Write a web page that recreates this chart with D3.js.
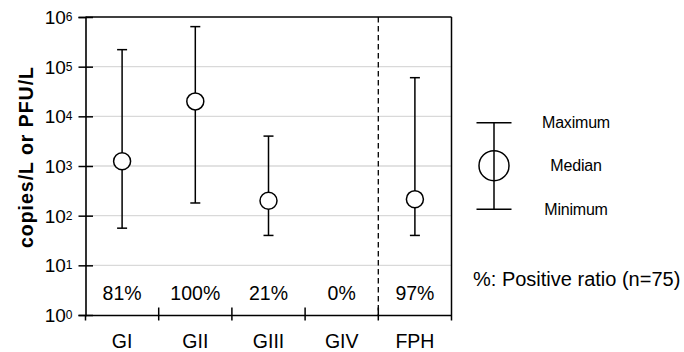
<!DOCTYPE html>
<html>
<head>
<meta charset="utf-8">
<script src="https://cdn.jsdelivr.net/npm/d3@7"></script>
<style>
  html, body { margin: 0; padding: 0; background: #fff; }
  svg { display: block; font-family: "Liberation Sans", Arial, sans-serif; }
</style>
</head>
<body>
<svg id="chart" width="684" height="352"></svg>
<script>
// ---- data ----
const categories = ["GI", "GII", "GIII", "GIV", "FPH"];
const maxValues = [2.2e5, 6.4e5, 4.0e3, null, 6.0e4];
const medianValues = [1.25e3, 2.0e4, 200, null, 215];
const minValues = [56, 180, 40, null, 40];
const positiveRatios = ["81%", "100%", "21%", "0%", "97%"];
const yTickValues = [1, 10, 100, 1e3, 1e4, 1e5, 1e6];
const yTickExponents = ["0", "1", "2", "3", "4", "5", "6"];
const legendLabels = ["Maximum", "Median", "Minimum"];
const yTitle = "copies/L or PFU/L";
const noteText = "%: Positive ratio (n=75)";

// ---- layout ----
const svg = d3.select("#chart");
const pLeft = 85.5, pRight = 451.5, pTop = 17, pBottom = 315;

const y = d3.scaleLog().domain([1, 1e6]).range([pBottom, pTop]);
const x = d3.scaleBand().domain(categories).range([pLeft, pRight]).padding(0);

// gridlines
svg.append("g")
  .selectAll("line")
  .data(yTickValues.filter(v => v > 1 && v < 1e6))
  .join("line")
  .attr("x1", pLeft).attr("x2", pRight)
  .attr("y1", d => y(d)).attr("y2", d => y(d))
  .attr("stroke", "#d9d9d9").attr("stroke-width", 1.4);

// dashed separator (between GIV and FPH)
svg.append("line")
  .attr("x1", x("FPH")).attr("x2", x("FPH"))
  .attr("y1", pTop).attr("y2", pBottom)
  .attr("stroke", "#000").attr("stroke-width", 1.3)
  .attr("stroke-dasharray", "5.5,3.5");

// frame top and right
svg.append("line").attr("x1", pLeft).attr("x2", pRight).attr("y1", pTop).attr("y2", pTop)
  .attr("stroke", "#000").attr("stroke-width", 1.5);
svg.append("line").attr("x1", pRight).attr("x2", pRight).attr("y1", pTop).attr("y2", pBottom)
  .attr("stroke", "#000").attr("stroke-width", 1.5);

// y axis
const yAxis = svg.append("g")
  .attr("transform", `translate(${pLeft},0)`)
  .call(d3.axisLeft(y).tickValues(yTickValues).tickSize(7).tickPadding(6).tickFormat(() => ""));
yAxis.select(".domain").attr("stroke-width", 1.6);
yAxis.selectAll(".tick line").attr("x1", 7.5).attr("stroke-width", 1.5);
yAxis.selectAll(".tick text").each(function (d, i) {
  const t = d3.select(this);
  t.text(null)
    .attr("x", -13)
    .attr("dy", "0.35em")
    .attr("fill", "#000")
    .style("font-size", "19px")
    .style("font-family", "'Liberation Sans', Arial, sans-serif");
  t.append("tspan").text("10");
  t.append("tspan").attr("dy", "-0.25em").style("font-size", "12px").text(yTickExponents[i]);
});

// x axis baseline and boundary ticks
const xAxis = svg.append("g")
  .attr("transform", `translate(0,${pBottom})`)
  .call(d3.axisBottom(x).tickSize(0).tickPadding(0));
xAxis.select(".domain").attr("stroke-width", 1.6);
xAxis.selectAll(".tick text")
  .attr("y", 33).attr("dy", 0)
  .attr("fill", "#000")
  .style("font-size", "19.5px")
  .style("font-family", "'Liberation Sans', Arial, sans-serif");

const boundaries = categories.map(c => x(c)).concat([x(categories[categories.length - 1]) + x.bandwidth()]);
svg.append("g")
  .selectAll("line")
  .data(boundaries)
  .join("line")
  .attr("x1", d => d).attr("x2", d => d)
  .attr("y1", (d, i) => (i === 0 || i === boundaries.length - 1) ? pBottom : pBottom - 7.5)
  .attr("y2", pBottom + 5.5)
  .attr("stroke", "#000").attr("stroke-width", 1.5);

// positive ratio labels
svg.append("g")
  .selectAll("text")
  .data(categories)
  .join("text")
  .attr("x", d => x(d) + x.bandwidth() / 2)
  .attr("y", 299.5)
  .attr("text-anchor", "middle")
  .style("font-size", "19.5px")
  .text((d, i) => positiveRatios[i]);

// error bars
const rows = categories.map((c, i) => ({ c, max: maxValues[i], med: medianValues[i], min: minValues[i] }))
  .filter(d => d.max != null);
const cap = 5;
const eb = svg.append("g").attr("stroke", "#000").attr("stroke-width", 1.5);
rows.forEach(d => {
  const cx = x(d.c) + x.bandwidth() / 2;
  eb.append("line").attr("x1", cx).attr("x2", cx).attr("y1", y(d.max)).attr("y2", y(d.min));
  eb.append("line").attr("x1", cx - cap).attr("x2", cx + cap).attr("y1", y(d.max)).attr("y2", y(d.max));
  eb.append("line").attr("x1", cx - cap).attr("x2", cx + cap).attr("y1", y(d.min)).attr("y2", y(d.min));
  eb.append("circle").attr("cx", cx).attr("cy", y(d.med)).attr("r", 8.5).attr("fill", "#fff");
});

// y title
svg.append("text")
  .attr("transform", "translate(33,157.5) rotate(-90)")
  .attr("text-anchor", "middle")
  .style("font-size", "19.5px")
  .style("font-weight", "bold")
  .attr("textLength", 181)
  .attr("lengthAdjust", "spacing")
  .text(yTitle);

// legend
const lg = svg.append("g");
const lx = 494, lTop = 122.7, lMid = 165.7, lBot = 209.3;
lg.append("line").attr("x1", lx).attr("x2", lx).attr("y1", lTop).attr("y2", lBot)
  .attr("stroke", "#000").attr("stroke-width", 1.5);
lg.append("line").attr("x1", lx - 17.5).attr("x2", lx + 17.5).attr("y1", lTop).attr("y2", lTop)
  .attr("stroke", "#000").attr("stroke-width", 1.5);
lg.append("line").attr("x1", lx - 17.5).attr("x2", lx + 17.5).attr("y1", lBot).attr("y2", lBot)
  .attr("stroke", "#000").attr("stroke-width", 1.5);
lg.append("circle").attr("cx", lx).attr("cy", lMid).attr("r", 15)
  .attr("fill", "none").attr("stroke", "#000").attr("stroke-width", 1.5);
lg.selectAll("text")
  .data(legendLabels)
  .join("text")
  .attr("x", 576)
  .attr("y", (d, i) => [lTop, lMid, lBot][i])
  .attr("dy", "0.35em")
  .attr("text-anchor", "middle")
  .style("font-size", "16px")
  .style("letter-spacing", "-0.2px")
  .text(d => d);

// note
svg.append("text")
  .attr("x", 473)
  .attr("y", 286)
  .style("font-size", "20px")
  .text(noteText);
</script>
</body>
</html>
